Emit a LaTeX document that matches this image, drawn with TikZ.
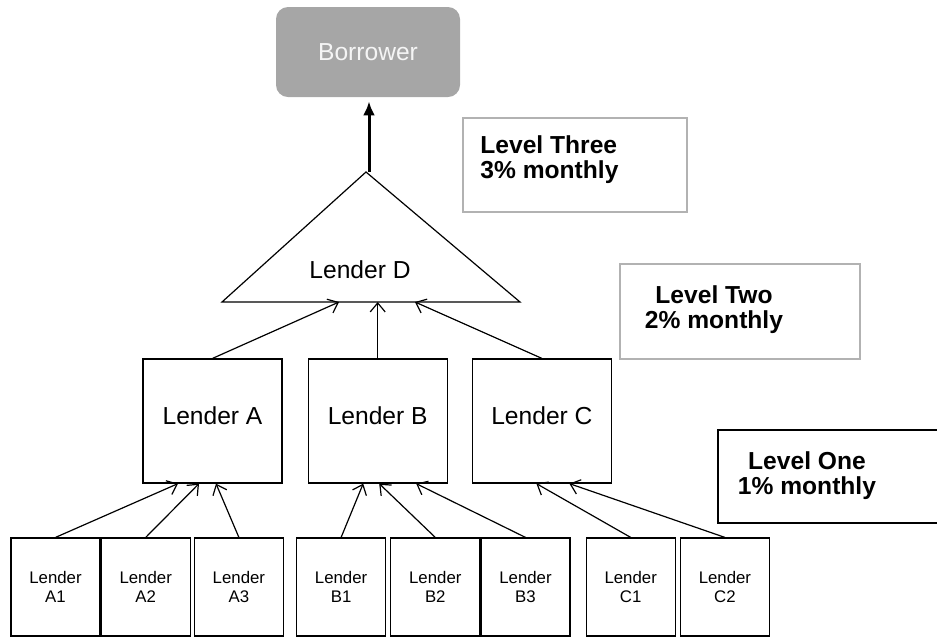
\documentclass[tikz,border=0pt]{standalone}
\usepackage{fontspec}
\setmainfont{Liberation Sans}
\usetikzlibrary{arrows.meta,positioning}

\tikzset{lender/.style = {draw, rectangle, line width=0.6pt, minimum width=69.5pt, minimum height=62pt, inner sep=0pt, text height=8pt, text depth=4.2pt}}

\begin{document}
\begin{tikzpicture}[x=0.5pt, y=-0.5pt, font=\fontsize{12.3}{14.5}\selectfont]
            % Define node styles
            \tikzstyle{small} = [rectangle, draw, line width=0.6pt, minimum width=44.5pt, minimum height=49pt, inner sep=0pt, align=center, font=\fontsize{8.4}{9.6}\selectfont]
            \tikzstyle{borrower} = [rectangle, rounded corners=6pt, fill=gray!70, text=white!96!black, minimum width=92pt, minimum height=45pt]
            \tikzstyle{levelbox} = [rectangle, draw=gray!60, line width=0.6pt]
            \tikzstyle{leveltext} = [inner sep=0pt, align=center, font=\fontsize{12.3}{12.5}\selectfont\bfseries]
            \tikzstyle{link} = [-{Straight Barb[length=4.5pt,width=7.5pt]}, line width=0.6pt]

            \clip (0,0) rectangle (937,639);

            % Borrower on top (grey, rounded)
            \node[borrower] (borrower) at (368,52) {Borrower};

            % Lender D triangle
            \coordinate (dtop) at (366,172);
            \coordinate (dleft) at (222,302);
            \coordinate (dright) at (520,302);
            \coordinate (dbase) at (371,302);
            \draw[line width=0.6pt] (dleft) -- (dtop) -- (dright) -- cycle;
            \node (lenderD) at (360,270) {Lender D};

            % Middle lenders
            \node[lender] (lenderA) at (212.5,421) {Lender A};
            \node[lender] (lenderB) [right=12.5pt of lenderA] {Lender B};
            \node[lender] (lenderC) [right=12pt of lenderB] {Lender C};

            % Bottom lenders
            \node[small] (a1) at (55.5,587) {Lender\\A1};
            \node[small] (a2) [right=0pt of a1] {Lender\\A2};
            \node[small] (a3) [right=1.5pt of a2] {Lender\\A3};
            \node[small] (b1) [right=6pt of a3] {Lender\\B1};
            \node[small] (b2) [right=2pt of b1] {Lender\\B2};
            \node[small] (b3) [right=0pt of b2] {Lender\\B3};
            \node[small] (c1) [right=7.5pt of b3] {Lender\\C1};
            \node[small] (c2) [right=2pt of c1] {Lender\\C2};

            % Level boxes
            \node[levelbox, minimum width=112pt, minimum height=47pt] (lvl3box) at (575,165) {};
            \node[leveltext, align=left, anchor=west] (lvl3) at (480,160) {Level Three\\3\% monthly};
            \node[levelbox, minimum width=120pt, minimum height=47.5pt] (lvl2box) at (740,311.5) {};
            \node[leveltext] (lvl2) at (714,310) {Level Two\\2\% monthly};
            \node[levelbox, draw=black, minimum width=121pt, minimum height=46.5pt] (lvl1box) at (839,476.5) {};
            \node[leveltext] (lvl1) at (807,476) {Level One\\1\% monthly};

            % Arrows up the tree
            \draw[-{Latex[length=7pt,width=6pt]}, line width=1.5pt, shorten >=2pt] ([xshift=1.5pt]dtop) -- ([xshift=1.5pt]dtop |- borrower.south);

            \draw[link] (lenderA.north) -- ([xshift=-16pt]dbase);
            \draw[link] (lenderB.north) -- (lenderB.north |- dbase);
            \draw[link] (lenderC.north) -- ([xshift=22pt]dbase);

            \draw[link] (a1.north) -- ([xshift=-17.25pt]lenderA.south);
            \draw[link] (a2.north) -- ([xshift=-6.75pt]lenderA.south);
            \draw[link] (a3.north) -- ([xshift=1.75pt]lenderA.south);
            \draw[link] (b1.north) -- ([xshift=-7.25pt]lenderB.south);
            \draw[link] (b2.north) -- ([xshift=0.75pt]lenderB.south);
            \draw[link] (b3.north) -- ([xshift=19.25pt]lenderB.south);
            \draw[link] (c1.north) -- ([xshift=-2.75pt]lenderC.south);
            \draw[link] (c2.north) -- ([xshift=13.75pt]lenderC.south);

        \end{tikzpicture}
\end{document}
